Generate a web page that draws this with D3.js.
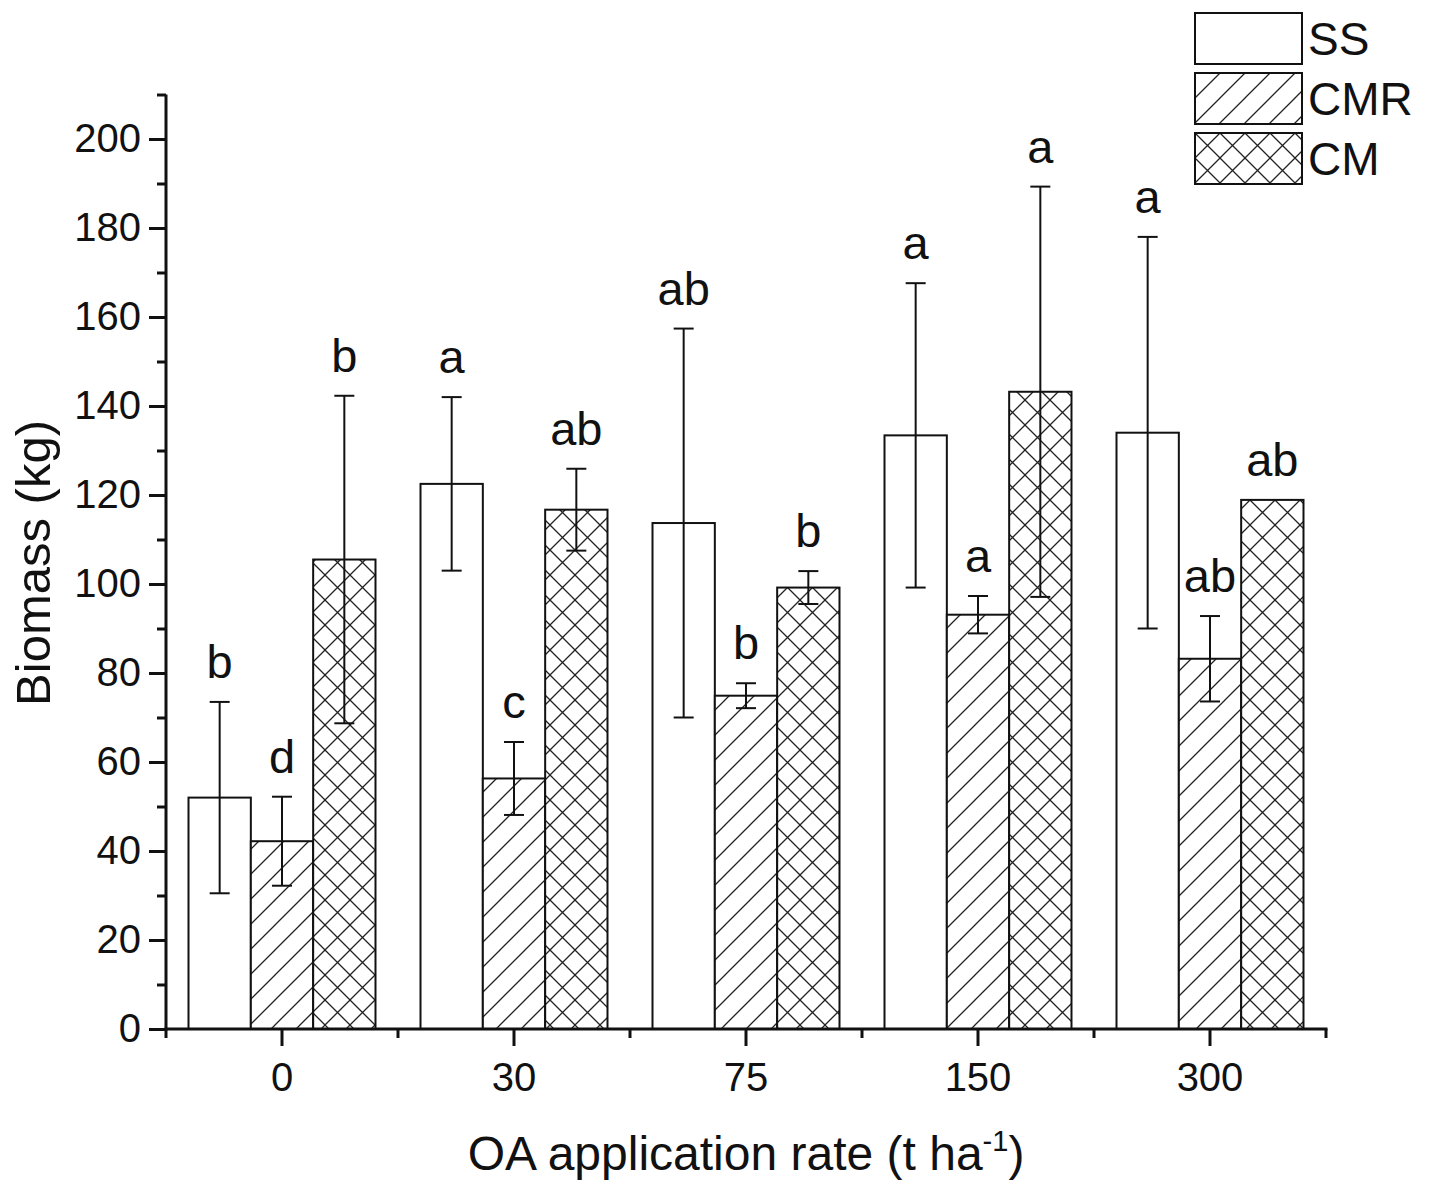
<!DOCTYPE html>
<html>
<head>
<meta charset="utf-8">
<script src="https://cdn.jsdelivr.net/npm/d3@7"></script>
<style>
  body { margin: 0; background: #fff; }
  text { font-family: "Liberation Sans", Arial, sans-serif; fill: #111; }
</style>
</head>
<body>
<svg id="chart" width="1445" height="1184"></svg>
<script>
// data
var categories = ["0", "30", "75", "150", "300"];
var series = ["SS", "CMR", "CM"];

var ss_values  = [52.0, 122.5, 113.7, 133.4, 134.0];
var ss_errors  = [21.5, 19.5, 43.7, 34.2, 44.0];
var cmr_values = [42.2, 56.3, 74.9, 93.1, 83.2];
var cmr_errors = [10.0, 8.2, 2.8, 4.2, 9.6];
var cm_values  = [105.5, 116.7, 99.2, 143.2, 118.9];
var cm_errors  = [36.8, 9.2, 3.7, 46.1, 0];

var ss_letters  = ["b", "a", "ab", "a", "a"];
var cmr_letters = ["d", "c", "b", "a", "ab"];
var cm_letters  = ["b", "ab", "b", "a", "ab"];

var y_ticks = [0, 20, 40, 60, 80, 100, 120, 140, 160, 180, 200];

var values  = {SS: ss_values, CMR: cmr_values, CM: cm_values};
var errors  = {SS: ss_errors, CMR: cmr_errors, CM: cm_errors};
var letters = {SS: ss_letters, CMR: cmr_letters, CM: cm_letters};
var fills   = {SS: "#fff", CMR: "url(#hatch)", CM: "url(#cross)"};

var svg = d3.select("#chart");

// hatch patterns
var defs = svg.append("defs");
var hatch = defs.append("pattern")
  .attr("id", "hatch")
  .attr("patternUnits", "userSpaceOnUse")
  .attr("width", 25).attr("height", 25);
hatch.append("rect").attr("width", 25).attr("height", 25).attr("fill", "#fff");
hatch.append("path")
  .attr("d", "M0,25 L25,0 M-5,5 L5,-5 M20,30 L30,20")
  .attr("stroke", "#222").attr("stroke-width", 1.3);

var cross = defs.append("pattern")
  .attr("id", "cross")
  .attr("patternUnits", "userSpaceOnUse")
  .attr("width", 25).attr("height", 25);
cross.append("rect").attr("width", 25).attr("height", 25).attr("fill", "#fff");
cross.append("path")
  .attr("d", "M0,25 L25,0 M-5,5 L5,-5 M20,30 L30,20 M0,0 L25,25 M-5,20 L5,30 M20,-5 L30,5")
  .attr("stroke", "#222").attr("stroke-width", 1.3);

// scales
var x0 = d3.scaleBand()
  .domain(categories)
  .range([166, 1326])
  .paddingInner(0.194)
  .paddingOuter(0.097);

var x1 = d3.scaleBand()
  .domain(series)
  .range([0, x0.bandwidth()]);

var y = d3.scaleLinear()
  .domain([0, 210])
  .range([1029, 94.5]);

// bars
var rows = [];
categories.forEach(function(c, i) {
  series.forEach(function(s) {
    rows.push({cat: c, s: s, v: values[s][i], e: errors[s][i], l: letters[s][i]});
  });
});

function barMid(d) { return x0(d.cat) + x1(d.s) + x1.bandwidth() / 2; }

var g = svg.append("g");

g.selectAll("rect.bar")
  .data(rows)
  .enter()
  .append("rect")
  .attr("class", "bar")
  .attr("x", function(d) { return x0(d.cat) + x1(d.s); })
  .attr("y", function(d) { return y(d.v); })
  .attr("width", x1.bandwidth())
  .attr("height", function(d) { return y(0) - y(d.v); })
  .attr("fill", function(d) { return fills[d.s]; })
  .attr("stroke", "#111")
  .attr("stroke-width", 2);

// error bars
var cap = 10;
var err = g.selectAll("g.err")
  .data(rows.filter(function(d) { return d.e > 0; }))
  .enter()
  .append("g")
  .attr("class", "err")
  .attr("stroke", "#111")
  .attr("stroke-width", 2);

err.append("line")
  .attr("x1", barMid)
  .attr("x2", barMid)
  .attr("y1", function(d) { return y(d.v + d.e); })
  .attr("y2", function(d) { return y(d.v - d.e); });

[1, -1].forEach(function(sign) {
  err.append("line")
    .attr("x1", function(d) { return barMid(d) - cap; })
    .attr("x2", function(d) { return barMid(d) + cap; })
    .attr("y1", function(d) { return y(d.v + sign * d.e); })
    .attr("y2", function(d) { return y(d.v + sign * d.e); });
});

// significance letters
g.selectAll("text.letter")
  .data(rows)
  .enter()
  .append("text")
  .attr("class", "letter")
  .attr("x", barMid)
  .attr("y", function(d) { return y(d.v + d.e) - 24; })
  .attr("text-anchor", "middle")
  .style("font-size", "47px")
  .text(function(d) { return d.l; });

// y axis, major and minor ticks
var yAxis = svg.append("g")
  .attr("transform", "translate(166,0)")
  .call(d3.axisLeft(y).tickValues(y_ticks).tickSize(17).tickPadding(8).tickFormat(d3.format("d")));

var yMinor = svg.append("g")
  .attr("transform", "translate(166,0)")
  .call(d3.axisLeft(y).tickValues(d3.range(10, 211, 20)).tickSize(9).tickFormat(""));

// x axis, major ticks at groups, minor ticks between
var xAxis = svg.append("g")
  .attr("transform", "translate(0,1029)")
  .call(d3.axisBottom(x0).tickSize(17).tickPadding(17));

var bounds = categories.map(function(c) { return x0(c) - x0.step() * x0.paddingInner() / 2; });
bounds.push(x0.range()[1]);
svg.append("g")
  .selectAll("line")
  .data(bounds)
  .enter()
  .append("line")
  .attr("x1", function(d) { return d; })
  .attr("x2", function(d) { return d; })
  .attr("y1", 1029)
  .attr("y2", 1038)
  .attr("stroke", "#111")
  .attr("stroke-width", 3);

[yAxis, yMinor, xAxis].forEach(function(a) {
  a.select(".domain").remove();
  a.selectAll(".tick line").attr("stroke", "#111").attr("stroke-width", 3);
  a.selectAll(".tick text").style("font-size", "40px").attr("fill", "#111")
    .style("font-family", "'Liberation Sans', Arial, sans-serif");
});

// axis lines
svg.append("line")
  .attr("x1", 166).attr("x2", 166)
  .attr("y1", y(210)).attr("y2", 1030.5)
  .attr("stroke", "#111").attr("stroke-width", 3);
svg.append("line")
  .attr("x1", 164.5).attr("x2", 1327.5)
  .attr("y1", 1029).attr("y2", 1029)
  .attr("stroke", "#111").attr("stroke-width", 3);

// axis titles
svg.append("text")
  .attr("transform", "translate(50,563) rotate(-90)")
  .attr("text-anchor", "middle")
  .style("font-size", "49px")
  .text("Biomass (kg)");

var xt = svg.append("text")
  .attr("x", 746)
  .attr("y", 1170)
  .attr("text-anchor", "middle")
  .style("font-size", "48px");
xt.append("tspan").text("OA application rate (t ha");
xt.append("tspan").attr("dy", -19).style("font-size", "29px").text("-1");
xt.append("tspan").attr("dy", 19).text(")");

// legend
var legend = svg.append("g")
  .selectAll("g")
  .data(series)
  .enter()
  .append("g")
  .attr("transform", function(d, i) { return "translate(1195," + (13 + i * 60) + ")"; });

legend.append("rect")
  .attr("width", 107)
  .attr("height", 51)
  .attr("fill", function(d) { return fills[d]; })
  .attr("stroke", "#111")
  .attr("stroke-width", 2);

legend.append("text")
  .attr("x", 113)
  .attr("y", 42)
  .style("font-size", "46px")
  .text(function(d) { return d; });
</script>
</body>
</html>
